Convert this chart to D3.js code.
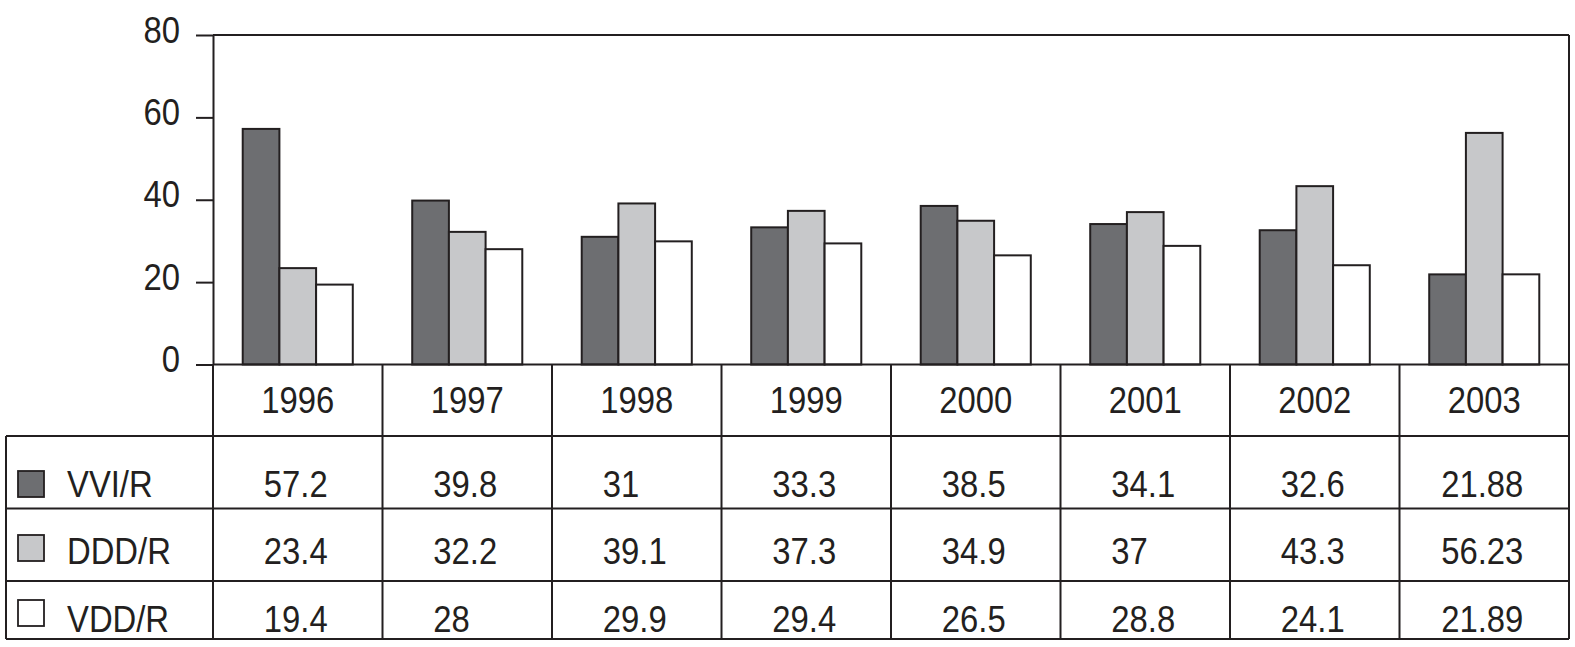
<!DOCTYPE html>
<html>
<head>
<meta charset="utf-8">
<script src="https://cdn.jsdelivr.net/npm/d3@7"></script>
<style>
  html, body { margin: 0; padding: 0; background: #fff; }
  svg { display: block; }
  text { font-family: "Liberation Sans", Arial, sans-serif; fill: #231f20; }
</style>
</head>
<body>
<svg id="chart" width="1575" height="647"></svg>
<script>
// ---- data ----
const years = ["1996", "1997", "1998", "1999", "2000", "2001", "2002", "2003"];
const seriesNames = ["VVI/R", "DDD/R", "VDD/R"];
const vviR = [57.2, 39.8, 31, 33.3, 38.5, 34.1, 32.6, 21.88];
const dddR = [23.4, 32.2, 39.1, 37.3, 34.9, 37, 43.3, 56.23];
const vddR = [19.4, 28, 29.9, 29.4, 26.5, 28.8, 24.1, 21.89];
const yTicks = [0, 20, 40, 60, 80];

(function () {
const seriesValues = [vviR, dddR, vddR];
const seriesFill = ["#6d6e71", "#c7c8ca", "#ffffff"];
const ink = "#231f20";
const fontSize = 37.5;
const sx = 0.875; // horizontal condensing of the font

// ---- layout ----
const plotLeft = 213, plotRight = 1569, plotTop = 35, plotZero = 364.5;
const tableLeft = 6;
const rowLines = [364.5, 436, 508.5, 581, 639];
const headerBaseline = 413;
const rowBaselines = [496.5, 564, 631.5];
const swatchBottoms = [497, 561, 626];

const svg = d3.select("#chart");

function place(sel, x, y) {
  sel.attr("x", 0).attr("y", 0).attr("dy", null)
     .attr("transform", `translate(${x},${y}) scale(${sx},1)`)
     .style("font-size", fontSize + "px");
  return sel;
}

const x0 = d3.scaleBand().domain(years).range([plotLeft, plotRight]).paddingInner(0).paddingOuter(0);
const x1 = d3.scaleBand().domain(seriesNames).range([0, x0.bandwidth()]).paddingInner(0).paddingOuter(0.81);
const y = d3.scaleLinear().domain([0, 80]).range([plotZero, plotTop]);

// frame top and right
svg.append("line").attr("x1", plotLeft).attr("x2", plotRight).attr("y1", y(80)).attr("y2", y(80))
  .attr("stroke", ink).attr("stroke-width", 2);
svg.append("line").attr("x1", plotRight).attr("x2", plotRight).attr("y1", y(80)).attr("y2", rowLines[4])
  .attr("stroke", ink).attr("stroke-width", 2);

// bars
const groups = svg.append("g").selectAll("g").data(years).join("g")
  .attr("transform", d => `translate(${x0(d)},0)`);
groups.selectAll("rect")
  .data((d, i) => seriesNames.map((s, k) => ({ s, k, v: seriesValues[k][i] })))
  .join("rect")
  .attr("x", d => x1(d.s))
  .attr("width", x1.bandwidth())
  .attr("y", d => y(d.v))
  .attr("height", d => y(0) - y(d.v))
  .attr("fill", d => seriesFill[d.k])
  .attr("stroke", ink)
  .attr("stroke-width", 2);

// y axis
const yAxis = svg.append("g").attr("transform", `translate(${plotLeft},0)`)
  .call(d3.axisLeft(y).tickValues(yTicks).tickSize(17).tickSizeOuter(0).tickPadding(16));
yAxis.select(".domain").attr("stroke", ink).attr("stroke-width", 2);
yAxis.selectAll(".tick line").attr("stroke", ink).attr("stroke-width", 2);
yAxis.selectAll(".tick text").each(function () {
  const t = d3.select(this);
  place(t, -33, 7).attr("fill", ink)
    .style("font-family", '"Liberation Sans", Arial, sans-serif');
});

// zero line (x axis)
svg.append("line").attr("x1", plotLeft).attr("x2", plotRight).attr("y1", y(0)).attr("y2", y(0))
  .attr("stroke", ink).attr("stroke-width", 2);

// ---- table ----
const tbl = svg.append("g");
rowLines.slice(1).forEach(ry => {
  tbl.append("line").attr("x1", tableLeft).attr("x2", plotRight).attr("y1", ry).attr("y2", ry)
    .attr("stroke", ink).attr("stroke-width", 2);
});
tbl.append("line").attr("x1", tableLeft).attr("x2", tableLeft).attr("y1", rowLines[1]).attr("y2", rowLines[4])
  .attr("stroke", ink).attr("stroke-width", 2);
years.forEach(yr => {
  tbl.append("line").attr("x1", x0(yr)).attr("x2", x0(yr)).attr("y1", rowLines[0]).attr("y2", rowLines[4])
    .attr("stroke", ink).attr("stroke-width", 2);
});

// header years
years.forEach(yr => {
  place(tbl.append("text").attr("text-anchor", "middle").text(yr),
        x0(yr) + x0.bandwidth() / 2, headerBaseline);
});

// legend swatches and labels
seriesNames.forEach((s, k) => {
  tbl.append("rect")
    .attr("x", 18).attr("y", swatchBottoms[k] - 26)
    .attr("width", 26).attr("height", 26)
    .attr("fill", seriesFill[k]).attr("stroke", ink).attr("stroke-width", 1.8);
  place(tbl.append("text").text(s), 67, rowBaselines[k]);
});

// reference width for aligning numbers
const probe = svg.append("text").style("font-size", fontSize + "px").text("00.0");
const refW = probe.node().getComputedTextLength() * sx;
probe.remove();

seriesNames.forEach((s, k) => {
  years.forEach((yr, i) => {
    const label = String(seriesValues[k][i]);
    const t = tbl.append("text").style("font-size", fontSize + "px").text(label);
    const w = t.node().getComputedTextLength() * sx;
    const cx = x0(yr) + x0.bandwidth() / 2 - 2;
    place(t, cx - Math.max(w, refW) / 2, rowBaselines[k]);
  });
});
})();
</script>
</body>
</html>
